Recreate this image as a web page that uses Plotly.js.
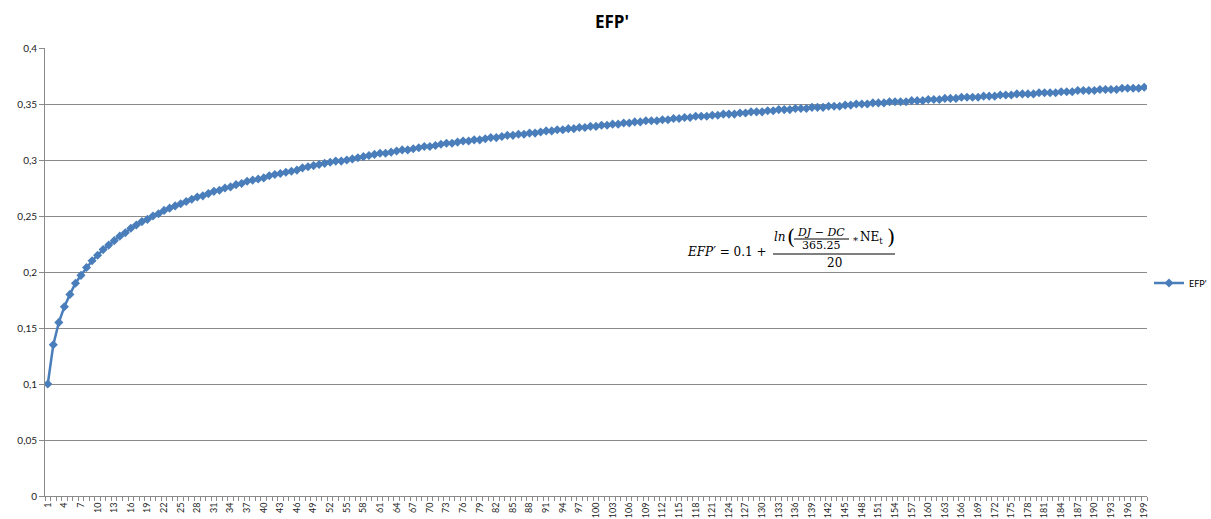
<!DOCTYPE html>
<html>
<head>
<meta charset="utf-8">
<script src="https://cdn.plot.ly/plotly-3.0.1.min.js"></script>
<style>html,body{margin:0;padding:0;overflow:hidden;background:#fff}#chart{width:1211px;height:519px}</style>
</head>
<body>
<div id="chart"></div>
<script>
var categories = [1,2,3,4,5,6,7,8,9,10,11,12,13,14,15,16,17,18,19,20,21,22,23,24,25,26,27,28,29,30,31,32,33,34,35,36,37,38,39,40,41,42,43,44,45,46,47,48,49,50,51,52,53,54,55,56,57,58,59,60,61,62,63,64,65,66,67,68,69,70,71,72,73,74,75,76,77,78,79,80,81,82,83,84,85,86,87,88,89,90,91,92,93,94,95,96,97,98,99,100,101,102,103,104,105,106,107,108,109,110,111,112,113,114,115,116,117,118,119,120,121,122,123,124,125,126,127,128,129,130,131,132,133,134,135,136,137,138,139,140,141,142,143,144,145,146,147,148,149,150,151,152,153,154,155,156,157,158,159,160,161,162,163,164,165,166,167,168,169,170,171,172,173,174,175,176,177,178,179,180,181,182,183,184,185,186,187,188,189,190,191,192,193,194,195,196,197,198,199];

var efpValues = [0.100,0.135,0.155,0.169,0.180,0.190,0.197,0.204,0.210,0.215,
0.220,0.224,0.228,0.232,0.235,0.239,0.242,0.245,0.247,0.250,
0.252,0.255,0.257,0.259,0.261,0.263,0.265,0.267,0.268,0.270,
0.272,0.273,0.275,0.276,0.278,0.279,0.281,0.282,0.283,0.284,
0.286,0.287,0.288,0.289,0.290,0.291,0.293,0.294,0.295,0.296,
0.297,0.298,0.299,0.299,0.300,0.301,0.302,0.303,0.304,0.305,
0.306,0.306,0.307,0.308,0.309,0.309,0.310,0.311,0.312,0.312,
0.313,0.314,0.315,0.315,0.316,0.317,0.317,0.318,0.318,0.319,
0.320,0.320,0.321,0.322,0.322,0.323,0.323,0.324,0.324,0.325,
0.326,0.326,0.327,0.327,0.328,0.328,0.329,0.329,0.330,0.330,
0.331,0.331,0.332,0.332,0.333,0.333,0.334,0.334,0.335,0.335,
0.335,0.336,0.336,0.337,0.337,0.338,0.338,0.339,0.339,0.339,
0.340,0.340,0.341,0.341,0.341,0.342,0.342,0.343,0.343,0.343,
0.344,0.344,0.345,0.345,0.345,0.346,0.346,0.346,0.347,0.347,
0.347,0.348,0.348,0.348,0.349,0.349,0.350,0.350,0.350,0.351,
0.351,0.351,0.352,0.352,0.352,0.352,0.353,0.353,0.353,0.354,
0.354,0.354,0.355,0.355,0.355,0.356,0.356,0.356,0.356,0.357,
0.357,0.357,0.358,0.358,0.358,0.359,0.359,0.359,0.359,0.360,
0.360,0.360,0.360,0.361,0.361,0.361,0.362,0.362,0.362,0.362,
0.363,0.363,0.363,0.363,0.364,0.364,0.364,0.364,0.365];

var seriesName = "EFP'";
var chartTitle = "EFP'";
var yTickValues = [0,0.05,0.1,0.15,0.2,0.25,0.3,0.35,0.4];
var yTickLabels = ["0","0,05","0,1","0,15","0,2","0,25","0,3","0,35","0,4"];
var xTickValues = categories.filter(function(c,i){return i % 3 === 0;});
var xTickLabels = xTickValues.map(String);

var W = 1211, H = 519;
var mL = 45, mR = 64, mT = 48, mB = 23;
var pw = W - mL - mR, ph = H - mT - mB;
function px(x){ return (x - mL) / pw; }
function py(y){ return (H - mB - y) / ph; }

var blue = '#4a7ebb';
var grid = '#8a8a8a';
var txt = '#222';
var mathFont = "'DejaVu Serif', serif";

function ann(text, x, y, size, anchor){
  return {text:text, x:px(x), y:py(y), xref:'paper', yref:'paper', showarrow:false,
    xanchor:anchor||'center', yanchor:'middle', borderpad:0,
    font:{family:mathFont, size:size, color:'#000'}};
}

var annotations = [
  ann('<i>EFP′</i> = 0.1 +', 727, 252, 12),
  ann('<i>ln</i>', 780, 237, 12),
  ann('(', 791, 237, 21),
  ann('<i>DJ</i> − <i>DC</i>', 821, 232, 11),
  ann('365.25', 821, 245, 11),
  ann('*', 855, 240, 10),
  ann('NE<sub>t</sub>', 871, 238, 12),
  ann(')', 891, 237, 21),
  ann('20', 834, 263, 12)
];

var shapes = [
  {type:'line', xref:'paper', yref:'paper', x0:px(773), x1:px(895), y0:py(254), y1:py(254), line:{color:'#000', width:1}},
  {type:'line', xref:'paper', yref:'paper', x0:px(794), x1:px(849), y0:py(239), y1:py(239), line:{color:'#000', width:1}}
];

var trace = {
  x: categories, y: efpValues, name: seriesName, type:'scatter', mode:'lines+markers',
  line:{color:blue, width:2.5},
  marker:{symbol:'diamond', size:7, color:blue}
};

var layout = {
  width:W, height:H,
  margin:{l:mL, r:mR, t:mT, b:mB, pad:0, autoexpand:false},
  paper_bgcolor:'#fff', plot_bgcolor:'#fff',
  font:{family:'Lato, Open Sans, sans-serif', color:txt, size:10},
  title:{text:'<b>'+chartTitle+'</b>', x:612/W, xref:'container', xanchor:'center', y:1-22/H, yref:'container', yanchor:'middle',
    font:{family:'Open Sans, Lato, sans-serif', size:17, color:'#000'}},
  showlegend:true,
  legend:{x:px(1149), xanchor:'left', y:py(283), yanchor:'middle', font:{size:9, color:'#000'},
    bgcolor:'rgba(0,0,0,0)', itemwidth:30, borderwidth:0},
  xaxis:{range:[0.5,199.5], tickmode:'array', tickvals:xTickValues, ticktext:xTickLabels,
    tickangle:-90, ticks:'', ticklabelstandoff:2, tickfont:{size:9, color:txt},
    showgrid:false, zeroline:false, showline:true, linecolor:grid, linewidth:1,
    minor:{tickmode:'linear', tick0:0.5, dtick:1, ticks:'outside', ticklen:4, tickcolor:grid, tickwidth:1, showgrid:false},
    fixedrange:true},
  yaxis:{range:[0,0.4], tickmode:'array', tickvals:yTickValues, ticktext:yTickLabels,
    ticks:'outside', ticklen:5, tickcolor:grid, tickfont:{size:10, color:txt},
    showgrid:true, gridcolor:grid, gridwidth:1, zeroline:false,
    showline:true, linecolor:grid, linewidth:1, fixedrange:true},
  annotations:annotations,
  shapes:shapes
};

Plotly.newPlot('chart', [trace], layout, {displayModeBar:false, staticPlot:true});
</script>
</body>
</html>
